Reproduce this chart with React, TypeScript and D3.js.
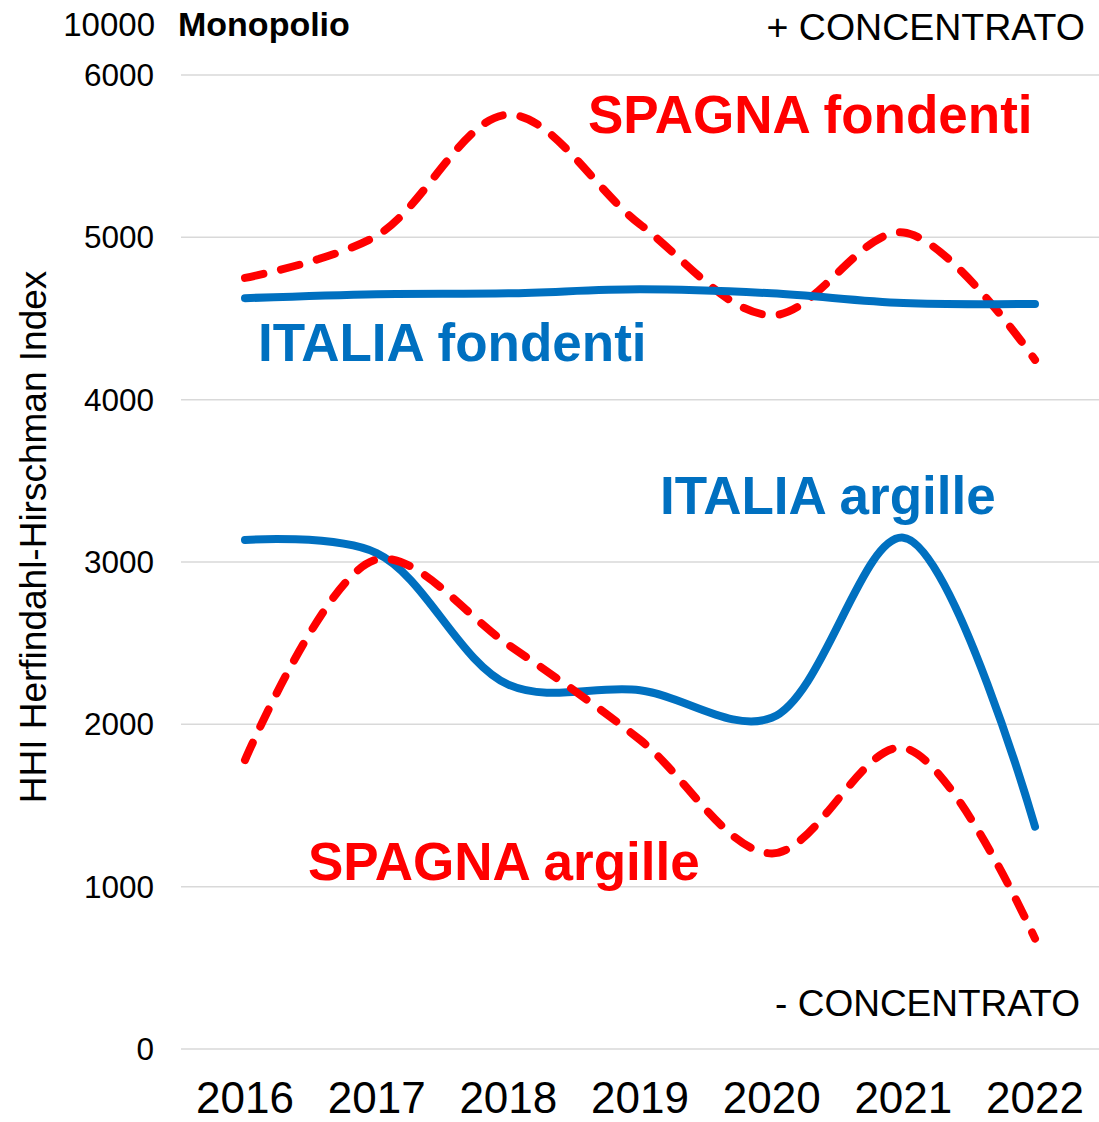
import React from "react";
import * as d3 from "d3";

const years = ["2016", "2017", "2018", "2019", "2020", "2021", "2022"];
const yTicks = [0, 1000, 2000, 3000, 4000, 5000, 6000];
const italiaFondenti = [4625, 4650, 4655, 4680, 4655, 4595, 4590];
const spagnaFondenti = [4750, 5010, 5755, 5080, 4520, 5030, 4245];
const italiaArgille = [3135, 3055, 2245, 2210, 2040, 3150, 1370];
const spagnaArgille = [1780, 3015, 2490, 1905, 1205, 1855, 680];

const BLUE = "#0070C0";
const RED = "#FF0000";
const FONT = "'Liberation Sans', Arial, sans-serif";

export default function App() {
  const W = 1099;
  const H = 1122;
  const x = d3.scalePoint<string>().domain(years).range([245, 1035]);
  const y = d3.scaleLinear().domain([0, 6000]).range([1049, 75]);
  const line = d3
    .line<number>()
    .x((_, i) => x(years[i]) as number)
    .y((d) => y(d))
    .curve(d3.curveCatmullRom.alpha(0.5));

  const series = [
    { data: spagnaFondenti, color: RED, dash: "19 18" },
    { data: italiaFondenti, color: BLUE, dash: undefined },
    { data: italiaArgille, color: BLUE, dash: undefined },
    { data: spagnaArgille, color: RED, dash: "19 18" },
  ];

  return (
    <svg
      width={W}
      height={H}
      style={{ position: "absolute", left: 0, top: 0, background: "#fff" }}
      fontFamily={FONT}
    >
      {yTicks.map((t) => (
        <g key={t}>
          <line x1={181} x2={1099} y1={y(t)} y2={y(t)} stroke="#d9d9d9" strokeWidth={1.5} />
          <text x={154} y={y(t) + 11} textAnchor="end" fontSize={31.5} fill="#000">
            {t}
          </text>
        </g>
      ))}
      <text x={155} y={36} textAnchor="end" fontSize={33} fill="#000">
        10000
      </text>
      <text x={178} y={36} fontSize={34} fontWeight="bold" fill="#000">
        Monopolio
      </text>
      <text x={1085} y={40} textAnchor="end" fontSize={37.5} fill="#000">
        + CONCENTRATO
      </text>
      <text x={1080} y={1016} textAnchor="end" fontSize={37} fill="#000">
        - CONCENTRATO
      </text>
      {years.map((yr) => (
        <text key={yr} x={x(yr)} y={1113} textAnchor="middle" fontSize={44} fill="#000">
          {yr}
        </text>
      ))}
      <text
        transform={`translate(46,537) rotate(-90)`}
        textAnchor="middle"
        fontSize={37}
        fill="#000"
      >
        HHI Herfindahl-Hirschman Index
      </text>
      {series.map((s, i) => (
        <path
          key={i}
          d={line(s.data) || ""}
          fill="none"
          stroke={s.color}
          strokeWidth={8}
          strokeLinecap="round"
          strokeLinejoin="round"
          strokeDasharray={s.dash}
        />
      ))}
      <text x={588} y={133} fontSize={53} fontWeight="bold" fill={RED}>
        SPAGNA fondenti
      </text>
      <text x={258} y={361} fontSize={53} fontWeight="bold" fill={BLUE}>
        ITALIA fondenti
      </text>
      <text x={660} y={514} fontSize={53} fontWeight="bold" fill={BLUE}>
        ITALIA argille
      </text>
      <text x={308} y={880} fontSize={53} fontWeight="bold" fill={RED}>
        SPAGNA argille
      </text>
    </svg>
  );
}
